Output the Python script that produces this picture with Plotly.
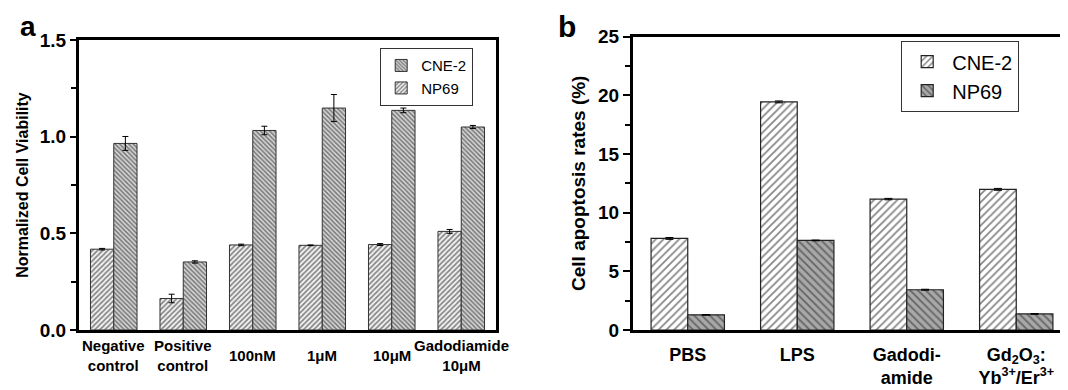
import plotly.graph_objects as go

# ---------------- data ----------------
a_categories = ["Negative<br>control", "Positive<br>control", "100nM", "1\u03bcM", "10\u03bcM", "Gadodiamide<br>10\u03bcM"]
a_left_vals = [0.418, 0.163, 0.440, 0.438, 0.442, 0.510]   # left bar, "/" hatch
a_left_err = [0.004, 0.022, 0.004, 0.002, 0.005, 0.010]
a_right_vals = [0.965, 0.352, 1.032, 1.148, 1.136, 1.050]  # right bar, "\" hatch
a_right_err = [0.036, 0.006, 0.022, 0.070, 0.012, 0.008]
a_legend_left = "NP69"
a_legend_right = "CNE-2"
a_yticks = [0.0, 0.5, 1.0, 1.5]
a_yticktext = ["0.0", "0.5", "1.0", "1.5"]

b_categories = ["PBS", "LPS", "Gadodi-<br>amide", "Gd<sub>2</sub>O<sub>3</sub>:<br>Yb<sup>3+</sup>/Er<sup>3+</sup>"]
b_cne2 = [7.80, 19.43, 11.15, 11.98]
b_cne2_err = [0.08, 0.08, 0.06, 0.08]
b_np69 = [1.29, 7.63, 3.43, 1.37]
b_np69_err = [0.03, 0.03, 0.04, 0.03]
b_yticks = [0, 5, 10, 15, 20, 25]

FONT = "Arial, Liberation Sans, sans-serif"
W, H = 1068, 390

def px_x(p):
    return p / W

def px_y(p):
    return 1 - p / H

fig = go.Figure()

# ---------------- panel a ----------------
fig.add_trace(go.Bar(
    x=list(range(len(a_categories))), y=a_left_vals, name=a_legend_left,
    xaxis="x", yaxis="y", legend="legend", legendrank=2,
    marker=dict(color="white", line=dict(color="#333", width=1),
                pattern=dict(shape="/", fgcolor="#1a1a1a", bgcolor="#f4f4f4", size=3.6, solidity=0.48)),
    error_y=dict(type="data", array=a_left_err, color="black", thickness=1, width=3),
))
fig.add_trace(go.Bar(
    x=list(range(len(a_categories))), y=a_right_vals, name=a_legend_right,
    xaxis="x", yaxis="y", legend="legend", legendrank=1,
    marker=dict(color="#bbbbbb", line=dict(color="#333", width=1),
                pattern=dict(shape="\\", fgcolor="#1a1a1a", bgcolor="#d8d8d8", size=3.2, solidity=0.5)),
    error_y=dict(type="data", array=a_right_err, color="black", thickness=1, width=3),
))

# ---------------- panel b ----------------
fig.add_trace(go.Bar(
    x=list(range(len(b_categories))), y=b_cne2, name="CNE-2",
    xaxis="x2", yaxis="y2", legend="legend2",
    marker=dict(color="white", line=dict(color="#222", width=1.2),
                pattern=dict(shape="/", fgcolor="#111", bgcolor="white", size=5.5, solidity=0.33)),
    error_y=dict(type="data", array=b_cne2_err, color="black", thickness=1, width=4),
))
fig.add_trace(go.Bar(
    x=list(range(len(b_categories))), y=b_np69, name="NP69",
    xaxis="x2", yaxis="y2", legend="legend2",
    marker=dict(color="#a8a8a8", line=dict(color="#222", width=1.2),
                pattern=dict(shape="\\", fgcolor="#222", bgcolor="#a8a8a8", size=5.5, solidity=0.33)),
    error_y=dict(type="data", array=b_np69_err, color="black", thickness=1, width=4),
))

axis_line = dict(showline=True, linecolor="black", linewidth=3, mirror=True,
                 showgrid=False, zeroline=False)

# category labels for panel a (vertically centred, like the reference)
annotations = []
for i, lab in enumerate(a_categories):
    annotations.append(dict(
        x=i, y=px_y(347), xref="x", yref="paper", text=lab, showarrow=False,
        xanchor="center", yanchor="middle",
        font=dict(family=FONT, size=15, color="black", weight="bold"),
    ))
annotations += [
    dict(x=px_x(10), y=px_y(18), xref="paper", yref="paper", text="<b>a</b>", showarrow=False,
         xanchor="left", yanchor="middle", font=dict(family=FONT, size=28, color="black")),
    dict(x=px_x(548), y=px_y(18), xref="paper", yref="paper", text="<b>b</b>", showarrow=False,
         xanchor="left", yanchor="middle", font=dict(family=FONT, size=30, color="black")),
]

fig.update_layout(
    width=W, height=H,
    margin=dict(l=0, r=0, t=0, b=0),
    paper_bgcolor="white", plot_bgcolor="white",
    barmode="group", bargap=0.33, bargroupgap=0,
    showlegend=True,
    font=dict(family=FONT, color="black"),
    xaxis=dict(domain=[px_x(71), px_x(488)], range=[-0.5, len(a_categories) - 0.5],
               showticklabels=False, ticks="", anchor="y", **axis_line),
    yaxis=dict(domain=[px_y(322), px_y(32)], range=[0, 1.5], anchor="x",
               tickvals=a_yticks, ticktext=a_yticktext,
               ticks="outside", ticklen=6, tickwidth=2, tickcolor="black",
               minor=dict(dtick=0.25, ticks="outside", ticklen=5, tickwidth=2, tickcolor="black"),
               tickfont=dict(family=FONT, size=19, color="black", weight="bold"),
               title=dict(text="Normalized Cell Viability", standoff=8,
                          font=dict(family=FONT, size=16, color="black", weight="bold")),
               automargin=False, **axis_line),
    xaxis2=dict(domain=[px_x(625), px_x(1063)], range=[-0.5, len(b_categories) - 0.5],
                tickvals=list(range(len(b_categories))), ticktext=b_categories,
                ticks="", ticklabelstandoff=6,
                tickfont=dict(family=FONT, size=18, color="black", weight="bold"),
                anchor="y2", automargin=False, **axis_line),
    yaxis2=dict(domain=[px_y(322), px_y(28.5)], range=[0, 25], anchor="x2",
                tickvals=b_yticks, ticks="outside", ticklen=7, tickwidth=2, tickcolor="black",
                minor=dict(dtick=2.5, ticks="outside", ticklen=5, tickwidth=2, tickcolor="black"),
                tickfont=dict(family=FONT, size=19, color="black", weight="bold"),
                title=dict(text="Cell apoptosis rates (%)", standoff=8,
                           font=dict(family=FONT, size=19, color="black", weight="bold")),
                automargin=False, **axis_line),
    legend=dict(x=px_x(372), y=px_y(40), xanchor="left", yanchor="top",
                bgcolor="white", bordercolor="#333", borderwidth=1.2,
                font=dict(family=FONT, size=15, color="black"),
                itemwidth=30, tracegroupgap=2),
    legend2=dict(x=px_x(893), y=px_y(33), xanchor="left", yanchor="top",
                 bgcolor="white", bordercolor="#333", borderwidth=1.2,
                 font=dict(family=FONT, size=20, color="black"),
                 itemwidth=40, tracegroupgap=2),
    annotations=annotations,
)

fig.write_html("out.html")
